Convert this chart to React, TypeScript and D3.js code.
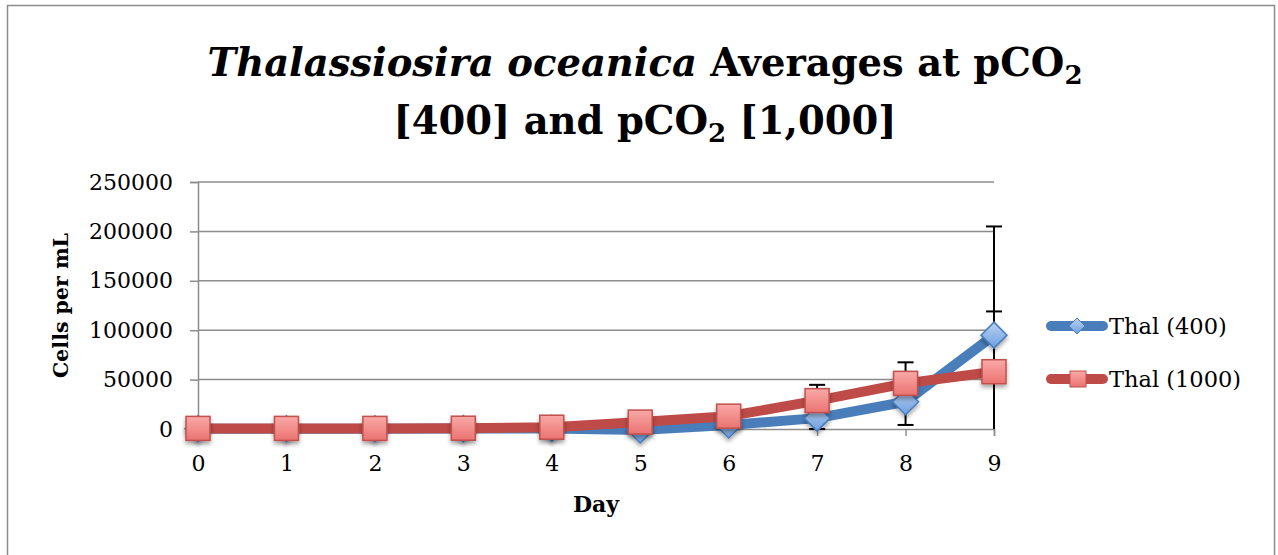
import React, { useEffect, useRef } from 'react';
import * as d3 from 'd3';

const days = [0, 1, 2, 3, 4, 5, 6, 7, 8, 9];
const thal400 = [300, 300, 300, 400, 600, -1000, 4000, 11000, 27600, 95000];
const thal400Err = [0, 0, 0, 0, 0, 300, 1000, 11000, 23500, 110000];
const thal1000 = [600, 600, 600, 800, 1800, 7000, 13000, 28700, 46200, 58000];
const thal1000Err = [0, 0, 0, 0, 0, 500, 1500, 16000, 21300, 61000];
const yTicks = [0, 50000, 100000, 150000, 200000, 250000];

const W = 1278;
const H = 555;

const App: React.FC = () => {
    const svgRef = useRef<SVGSVGElement>(null);

    useEffect(() => {
        const svg = d3.select(svgRef.current);
        svg.selectAll('*').remove();

        const font = '"DejaVu Serif", serif';
        const x = d3.scaleLinear().domain([0, 9]).range([198, 994]);
        const y = d3.scaleLinear().domain([0, 250000]).range([429, 182]);

        // defs: gradients and shadow
        const defs = svg.append('defs');
        const gb = defs.append('linearGradient').attr('id', 'gBlue').attr('x1', 0).attr('y1', 0).attr('x2', 0).attr('y2', 1);
        gb.append('stop').attr('offset', '0%').attr('stop-color', '#b9d1f2');
        gb.append('stop').attr('offset', '100%').attr('stop-color', '#6e9fe0');
        const gr = defs.append('linearGradient').attr('id', 'gRed').attr('x1', 0).attr('y1', 0).attr('x2', 0).attr('y2', 1);
        gr.append('stop').attr('offset', '0%').attr('stop-color', '#f9a9a7');
        gr.append('stop').attr('offset', '100%').attr('stop-color', '#ea7370');
        const f = defs.append('filter').attr('id', 'shadow').attr('x', '-50%').attr('y', '-50%').attr('width', '200%').attr('height', '200%');
        f.append('feDropShadow').attr('dx', 0).attr('dy', 3).attr('stdDeviation', 2).attr('flood-color', '#000').attr('flood-opacity', 0.35);

        // outer border
        svg.append('rect')
            .attr('x', 7.5).attr('y', 5.5)
            .attr('width', 1267).attr('height', 560)
            .attr('fill', '#fff')
            .attr('stroke', '#8c8c8c')
            .attr('stroke-width', 1.5);

        // title
        const title = svg.append('text')
            .attr('text-anchor', 'middle')
            .style('font-family', font)
            .style('font-weight', 'bold')
            .style('font-size', '38.5px')
            .style('fill', '#000');
        const l1 = title.append('tspan').attr('x', 645).attr('y', 76);
        l1.append('tspan').style('font-style', 'italic').text('Thalassiosira oceanica');
        l1.append('tspan').text(' Averages at pCO');
        l1.append('tspan').attr('dy', 8).style('font-size', '26px').text('2');
        const l2 = title.append('tspan').attr('x', 645).attr('y', 134);
        l2.append('tspan').text('[400] and pCO');
        l2.append('tspan').attr('dy', 8).style('font-size', '26px').text('2');
        l2.append('tspan').attr('dy', -8).text(' [1,000]');

        // gridlines
        svg.append('g').selectAll('line')
            .data(yTicks.filter(d => d > 0))
            .enter().append('line')
            .attr('x1', x(0)).attr('x2', x(9))
            .attr('y1', d => y(d)).attr('y2', d => y(d))
            .attr('stroke', '#8c8c8c').attr('stroke-width', 1.5);

        // y axis
        const yAxis = svg.append('g').attr('transform', `translate(${x(0)},0)`)
            .call(d3.axisLeft(y).tickValues(yTicks).tickSize(8).tickPadding(17).tickFormat(d => String(d)));
        yAxis.select('.domain').attr('stroke', '#8c8c8c').attr('stroke-width', 1.5);
        yAxis.selectAll('.tick line').attr('stroke', '#8c8c8c').attr('stroke-width', 1.5);
        yAxis.selectAll('.tick text').style('font-family', font).style('font-size', '22px').attr('fill', '#000');

        // x axis
        const xAxis = svg.append('g').attr('transform', `translate(0,${y(0)})`)
            .call(d3.axisBottom(x).tickValues(days).tickSize(7).tickPadding(19).tickFormat(d => String(d)));
        xAxis.select('.domain').attr('stroke', '#8c8c8c').attr('stroke-width', 1.5);
        xAxis.selectAll('.tick line').attr('stroke', '#8c8c8c').attr('stroke-width', 1.5);
        xAxis.selectAll('.tick text').style('font-family', font).style('font-size', '22px').attr('fill', '#000');

        // axis titles
        svg.append('text')
            .attr('transform', `translate(68,${y(125000)}) rotate(-90)`)
            .attr('text-anchor', 'middle')
            .style('font-family', font).style('font-weight', 'bold').style('font-size', '20.5px')
            .text('Cells per mL');
        svg.append('text')
            .attr('x', 596).attr('y', 512)
            .attr('text-anchor', 'middle')
            .style('font-family', font).style('font-weight', 'bold').style('font-size', '22px')
            .text('Day');

        const series = [
            { name: 'Thal (400)', values: thal400, err: thal400Err, color: '#4a7ebb', stroke: '#4a7ebb', fill: 'url(#gBlue)', shape: 'diamond' },
            { name: 'Thal (1000)', values: thal1000, err: thal1000Err, color: '#be4b48', stroke: '#c0504d', fill: 'url(#gRed)', shape: 'square' }
        ];

        const clampY = (v: number) => y(Math.max(0, v));

        // error bars
        series.forEach(s => {
            const g = svg.append('g');
            days.forEach((d, i) => {
                const e = s.err[i];
                if (!e) return;
                const top = y(s.values[i] + e);
                const bot = clampY(s.values[i] - e);
                g.append('line').attr('x1', x(d)).attr('x2', x(d)).attr('y1', top).attr('y2', bot).attr('stroke', '#000').attr('stroke-width', 2);
                g.append('line').attr('x1', x(d) - 8).attr('x2', x(d) + 8).attr('y1', top).attr('y2', top).attr('stroke', '#000').attr('stroke-width', 2);
                if (s.values[i] - e >= 0) {
                    g.append('line').attr('x1', x(d) - 8).attr('x2', x(d) + 8).attr('y1', bot).attr('y2', bot).attr('stroke', '#000').attr('stroke-width', 2);
                }
            });
        });

        const line = d3.line<number>().x((_, i) => x(days[i])).y(v => y(v));
        const diamond = (cx: number, cy: number, r: number) => `M${cx},${cy - r}L${cx + r},${cy}L${cx},${cy + r}L${cx - r},${cy}Z`;

        series.forEach(s => {
            svg.append('path')
                .attr('d', line(s.values) || '')
                .attr('fill', 'none')
                .attr('stroke', s.color)
                .attr('stroke-width', 10)
                .attr('stroke-linejoin', 'round')
                .attr('stroke-linecap', 'round');
            const mg = svg.append('g').attr('filter', 'url(#shadow)');
            days.forEach((d, i) => {
                const cx = x(d);
                const cy = y(s.values[i]);
                if (s.shape === 'diamond') {
                    mg.append('path').attr('d', diamond(cx, cy, 13)).attr('fill', s.fill).attr('stroke', s.stroke).attr('stroke-width', 1.5);
                } else {
                    mg.append('rect').attr('x', cx - 12).attr('y', cy - 12).attr('width', 24).attr('height', 24)
                        .attr('fill', s.fill).attr('stroke', s.stroke).attr('stroke-width', 1.5);
                }
            });
        });

        // legend
        const legend = svg.append('g');
        series.forEach((s, i) => {
            const ly = 326 + i * 53;
            legend.append('line').attr('x1', 1051).attr('x2', 1103).attr('y1', ly).attr('y2', ly)
                .attr('stroke', s.color).attr('stroke-width', 10).attr('stroke-linecap', 'round');
            if (s.shape === 'diamond') {
                legend.append('path').attr('d', diamond(1077, ly, 8)).attr('fill', s.fill).attr('stroke', s.stroke).attr('stroke-width', 1);
            } else {
                legend.append('rect').attr('x', 1070).attr('y', ly - 8).attr('width', 16).attr('height', 16)
                    .attr('fill', s.fill).attr('stroke', s.stroke).attr('stroke-width', 1);
            }
            legend.append('text').attr('x', 1109).attr('y', ly).attr('dy', '0.35em')
                .style('font-family', font).style('font-size', '22.5px').text(s.name);
        });
    }, []);

    return <svg ref={svgRef} width={W} height={H} style={{ position: 'absolute', left: 0, top: 0 }} />;
};

export default App;
